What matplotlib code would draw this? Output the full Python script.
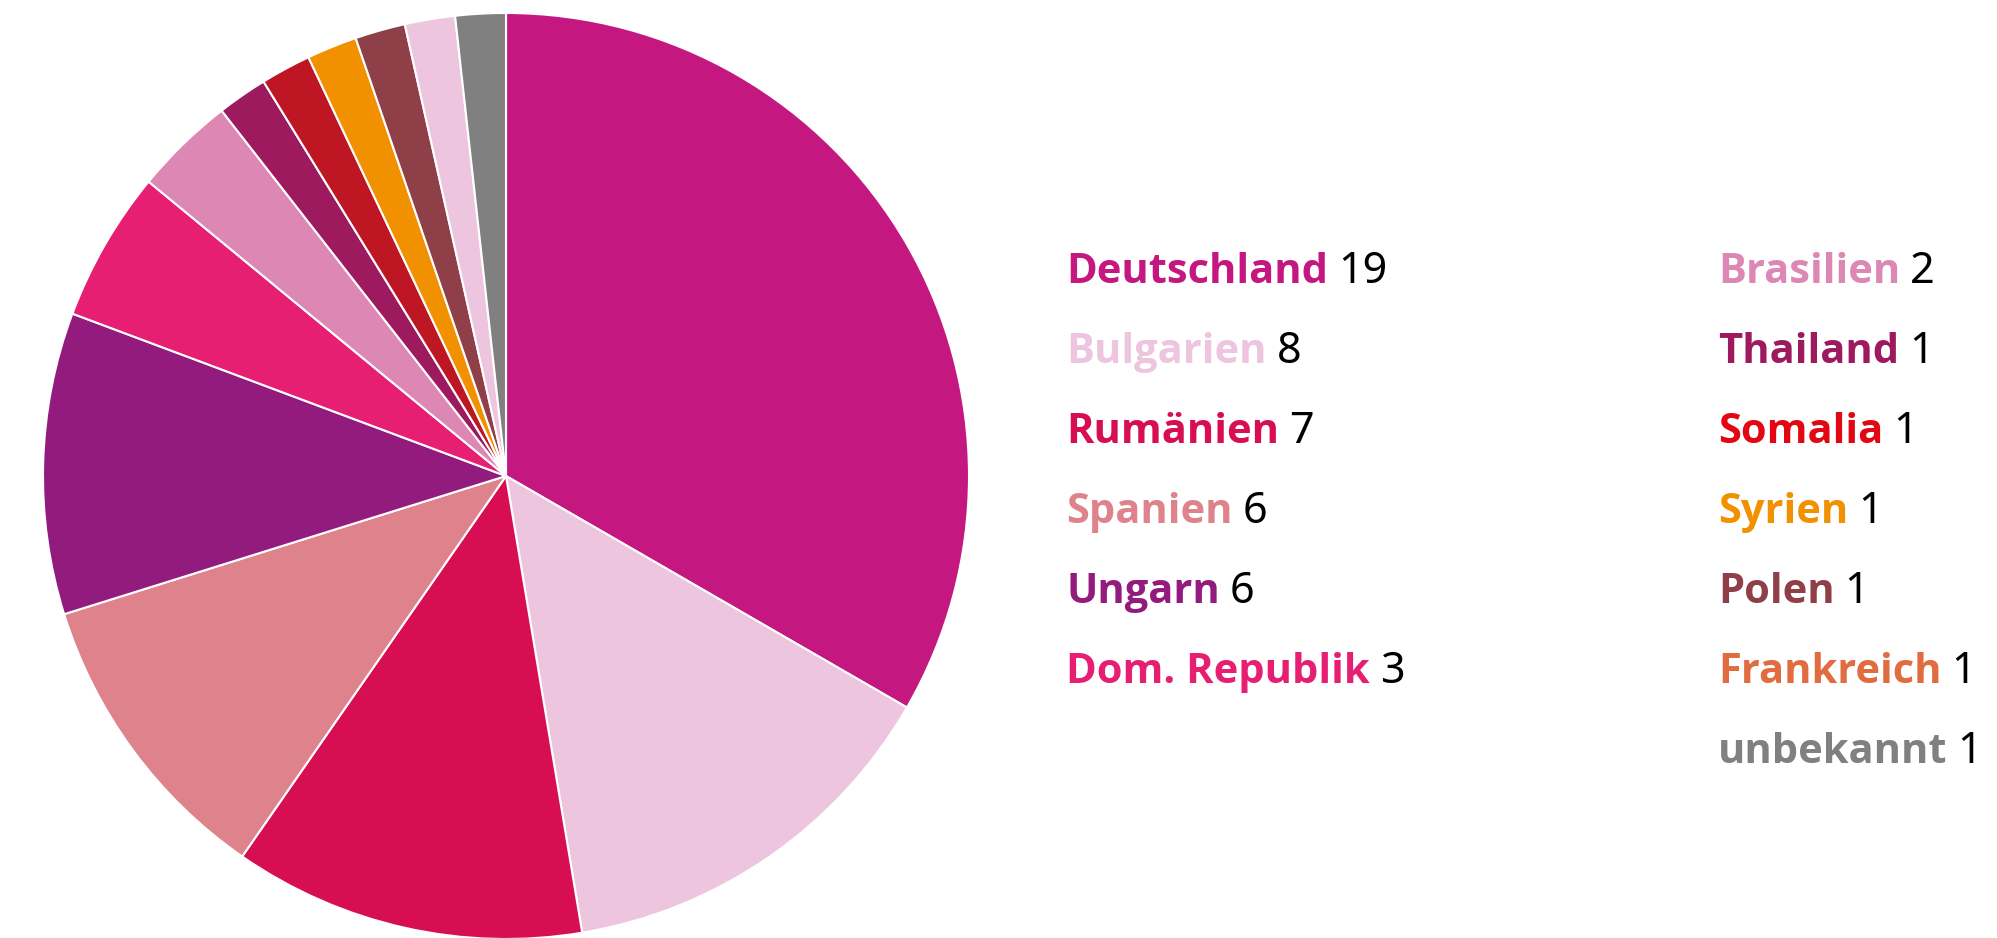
import matplotlib
matplotlib.use("Agg")
import matplotlib.pyplot as plt
from matplotlib import font_manager as fm

countries = ["Deutschland", "Bulgarien", "Rumänien", "Spanien", "Ungarn", "Dom. Republik",
             "Brasilien", "Thailand", "Somalia", "Syrien", "Polen", "Frankreich", "unbekannt"]
counts = [19, 8, 7, 6, 6, 3, 2, 1, 1, 1, 1, 1, 1]
slice_colors = ["#C4177F", "#EDC5DF", "#D70E52", "#DE838C", "#941B7E", "#E61F73",
                "#DC87B4", "#9E1A5E", "#BE1622", "#F29100", "#8F3F47", "#EDC5DF", "#808080"]
label_colors = ["#C4177F", "#EDC5DF", "#D70E52", "#DE838C", "#941B7E", "#E61F73",
                "#DC87B4", "#9E1A5E", "#E30613", "#F29100", "#8F3F47", "#E06C40", "#808080"]

# find a bold Noto Sans / Open Sans file if available
bold_file = None
for f in fm.fontManager.ttflist:
    if f.name in ("Noto Sans",) and f.weight in (700, "bold") and f.style == "normal":
        bold_file = f.fname
        break
if bold_file is None:
    for f in fm.fontManager.ttflist:
        if f.name == "Open Sans" and f.weight in (700, "bold") and f.style == "normal":
            bold_file = f.fname
            break

plt.rcParams['font.family'] = ['Noto Sans', 'DejaVu Sans']

W, H = 1997, 938
fig = plt.figure(figsize=(W / 100, H / 100), dpi=100)
fig.patch.set_facecolor("white")

cx, cy, R = 506, 476, 463
ax = fig.add_axes([(cx - R) / W, (H - cy - R) / H, 2 * R / W, 2 * R / H])
ax.pie(counts, colors=slice_colors, startangle=90, counterclock=False,
       wedgeprops=dict(edgecolor="white", linewidth=1.5))
ax.set_xlim(-1, 1)
ax.set_ylim(-1, 1)
ax.set_aspect("equal")
ax.axis("off")

fs = 30
if bold_file:
    bold_fp = fm.FontProperties(fname=bold_file, size=fs)
else:
    bold_fp = fm.FontProperties(family=["Open Sans", "Noto Sans"], weight="bold", size=fs)

col_x = [1066, 1718]
base0 = 283
step = 80
split = 6
name_texts = []
for i, (name, col) in enumerate(zip(countries, label_colors)):
    c = 0 if i < split else 1
    r = i if i < split else i - split
    x = col_x[c]
    y = base0 + r * step
    t = fig.text(x / W, 1 - y / H, name, color=col, fontproperties=bold_fp,
                 ha="left", va="baseline")
    name_texts.append((t, y))

fig.canvas.draw()
renderer = fig.canvas.get_renderer()
for (t, y), n in zip(name_texts, counts):
    bb = t.get_window_extent(renderer)
    fig.text((bb.x1 + 10) / W, 1 - y / H, str(n), color="black", fontsize=fs + 1,
             ha="left", va="baseline")

fig.savefig("out.png", dpi=100, facecolor="white")
